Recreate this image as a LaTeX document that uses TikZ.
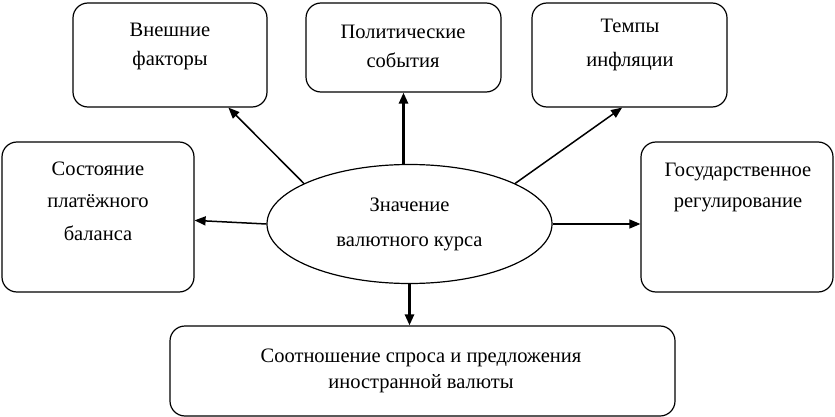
\documentclass[tikz,border=0pt]{standalone}
\usepackage{fontspec}
\setmainfont{Liberation Serif}
\usetikzlibrary{shapes.geometric,arrows.meta}

\begin{document}
\begin{tikzpicture}[x=1pt, y=-1pt, line width=1.2pt,
                    factor box/.style={draw, rounded corners=15pt, inner sep=0pt},
                    box text/.style={align=center, font=\fontsize{20.5}{30}\selectfont},
                    value node/.style={ellipse, draw, inner sep=0pt, align=center,
                                       minimum width=285pt, minimum height=119pt},
                    link/.style={line width=1.5pt, -{Triangle[length=11pt,width=9pt]}},
                    main link/.style={link, line width=2.6pt}]
  \useasboundingbox (0,0) rectangle (835,417);
  % factor boxes
  \node[factor box, minimum width=194pt, minimum height=104pt] (ext) at (170,55) {};
  \node[factor box, minimum width=195pt, minimum height=89pt] (pol) at (403.5,47.5) {};
  \node[factor box, minimum width=195pt, minimum height=104pt] (inf) at (629.5,55) {};
  \node[factor box, minimum width=192pt, minimum height=150pt] (bal) at (98,217) {};
  \node[factor box, minimum width=192pt, minimum height=150pt] (gov) at (737,217) {};
  \node[factor box, minimum width=505pt, minimum height=90pt] (dem) at (422.5,371) {};
  % texts
  \node[box text, font=\fontsize{20.5}{29}\selectfont] at (170,46) {Внешние\\факторы};
  \node[box text, font=\fontsize{20.5}{29}\selectfont] at (403,46) {Политические\\события};
  \node[box text, font=\fontsize{20.5}{34}\selectfont] at (630,45) {Темпы\\инфляции};
  \node[box text, font=\fontsize{20.5}{32.5}\selectfont] at (98,201) {Состояние\\платёжного\\баланса};
  \node[box text, font=\fontsize{20.5}{31}\selectfont] at (738,187) {Государственное\\регулирование};
  \node[box text, font=\fontsize{20.5}{26}\selectfont] at (421,371) {Соотношение спроса и предложения\\иностранной валюты};
  % centre
  \node[value node, font=\fontsize{20.5}{35}\selectfont] (val) at (409.5,224) {Значение\\валютного курса};
  % arrows
  \draw[link] (val.159) -- (ext.-42);
  \draw[main link] (pol.south |- val.north) -- (pol.south);
  \draw[link] (val.21) -- (inf.-98);
  \draw[link] (val.west) -- (bal.-2);
  \draw[link] (val.east) -- (val.east -| gov.west);
  \draw[main link] (val.south) -- (val.south |- dem.north);
\end{tikzpicture}
\end{document}
